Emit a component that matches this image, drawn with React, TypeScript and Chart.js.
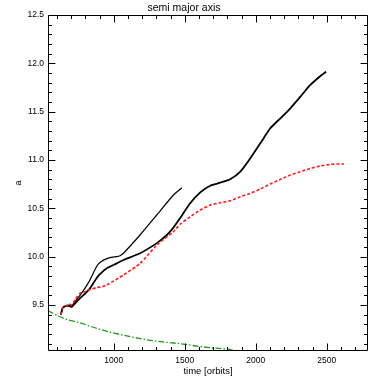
import React, { useEffect, useRef } from "react";
import { Chart, registerables } from "chart.js";

Chart.register(...registerables);

// ---- data (time in orbits, semi major axis a) ----
const timeThick = [628, 640, 664, 687, 704, 730, 762, 800, 833, 880, 903, 951, 1021, 1068, 1185, 1303, 1374, 1420, 1468, 1538, 1609, 1679, 1750, 1820, 1891, 1961, 2032, 2102, 2173, 2243, 2314, 2384, 2455, 2495];
const aThick = [9.40, 9.47, 9.49, 9.49, 9.48, 9.52, 9.57, 9.62, 9.672, 9.78, 9.82, 9.88, 9.93, 9.965, 10.035, 10.14, 10.224, 10.30, 10.40, 10.552, 10.665, 10.734, 10.765, 10.80, 10.879, 11.017, 11.173, 11.328, 11.431, 11.535, 11.655, 11.776, 11.869, 11.913];

const timeThin = [628, 640, 664, 687, 704, 730, 762, 800, 833, 880, 903, 951, 990, 1021, 1044, 1068, 1185, 1303, 1420, 1480];
const aThin = [9.40, 9.47, 9.49, 9.50, 9.49, 9.54, 9.60, 9.68, 9.76, 9.90, 9.94, 9.98, 9.995, 10.0, 10.01, 10.035, 10.224, 10.431, 10.638, 10.713];

const timeRed = [628, 640, 664, 687, 704, 730, 762, 800, 833, 880, 920, 951, 1068, 1185, 1303, 1420, 1468, 1538, 1609, 1679, 1750, 1820, 1891, 1961, 2032, 2102, 2173, 2243, 2314, 2384, 2455, 2525, 2620];
const aRed = [9.40, 9.47, 9.49, 9.51, 9.50, 9.56, 9.62, 9.64, 9.66, 9.68, 9.69, 9.707, 9.81, 9.93, 10.12, 10.258, 10.338, 10.413, 10.483, 10.534, 10.558, 10.579, 10.62, 10.655, 10.70, 10.752, 10.80, 10.845, 10.879, 10.914, 10.938, 10.955, 10.96];

const timeGreen = [537, 650, 762, 903, 1044, 1256, 1489, 1609, 1797, 1880];
const aGreen = [9.44, 9.36, 9.315, 9.248, 9.195, 9.135, 9.095, 9.07, 9.042, 9.024];

// ---- axes ----
const xMin = 537;
const xMax = 2790;
const yMin = 9.024;
const yMax = 12.5;
const xTickValues = [1000, 1500, 2000, 2500];
const xTickLabels = ["1000", "1500", "2000", "2500"];
const yTickValues = [9.5, 10.0, 10.5, 11.0, 11.5, 12.0, 12.5];
const yTickLabels = ["9.5", "10.0", "10.5", "11.0", "11.5", "12.0", "12.5"];
const xMinorStep = 100;
const yMinorStep = 0.1;

const titleText = "semi major axis";
const xTitle = "time [orbits]";
const yTitle = "a";

const FONT = "'Liberation Sans', Arial, sans-serif";

const pts = (xs: number[], ys: number[]) => xs.map((x, i) => ({ x, y: ys[i] }));

const framePlugin = {
  id: "idlFrame",
  afterDatasetsDraw(chart: any) {
    const { ctx, chartArea, scales } = chart;
    const { left, right, top, bottom } = chartArea;
    const xs = scales.x;
    const ys = scales.y;
    const L = Math.round(left) + 0.5;
    const R = Math.round(right) - 0.5;
    const T = Math.round(top) + 0.5;
    const B = Math.round(bottom) - 0.5;
    ctx.save();
    ctx.strokeStyle = "#000";
    ctx.lineWidth = 1;
    ctx.beginPath();
    ctx.rect(L, T, R - L, B - T);
    const major = 7;
    const minor = 3.5;
    const k0 = Math.ceil(xMin / xMinorStep);
    const k1 = Math.floor(xMax / xMinorStep);
    for (let k = k0; k <= k1; k++) {
      const v = k * xMinorStep;
      const len = xTickValues.includes(v) ? major : minor;
      const px = Math.round(xs.getPixelForValue(v)) + 0.5;
      ctx.moveTo(px, B);
      ctx.lineTo(px, B - len);
      ctx.moveTo(px, T);
      ctx.lineTo(px, T + len);
    }
    const j0 = Math.ceil(yMin / yMinorStep - 1e-6);
    const j1 = Math.floor(yMax / yMinorStep + 1e-6);
    for (let j = j0; j <= j1; j++) {
      const v = j * yMinorStep;
      const len = yTickValues.some((t) => Math.abs(t - v) < 1e-6) ? major : minor;
      const py = Math.round(ys.getPixelForValue(v)) + 0.5;
      ctx.moveTo(L, py);
      ctx.lineTo(L + len, py);
      ctx.moveTo(R, py);
      ctx.lineTo(R - len, py);
    }
    ctx.stroke();
    ctx.restore();
  },
};

export default function App() {
  const ref = useRef<HTMLCanvasElement | null>(null);
  useEffect(() => {
    if (!ref.current) return;
    const chart = new Chart(ref.current, {
      type: "line",
      data: {
        datasets: [
          {
            label: "green",
            data: pts(timeGreen, aGreen),
            borderColor: "#1f9a1f",
            borderWidth: 1.3,
            borderDash: [6, 2, 1.5, 2],
            pointRadius: 0,
            cubicInterpolationMode: "monotone",
          },
          {
            label: "red",
            data: pts(timeRed, aRed),
            borderColor: "#ff1a1a",
            borderWidth: 1.6,
            borderDash: [3, 2],
            pointRadius: 0,
            tension: 0.2,
          },
          {
            label: "thin",
            data: pts(timeThin, aThin),
            borderColor: "#000",
            borderWidth: 1.2,
            pointRadius: 0,
            tension: 0.2,
          },
          {
            label: "thick",
            data: pts(timeThick, aThick),
            borderColor: "#000",
            borderWidth: 1.8,
            pointRadius: 0,
            tension: 0.2,
          },
        ],
      },
      options: {
        animation: false,
        responsive: false,
        layout: { padding: { left: 0, right: 14, top: 0, bottom: 0 } },
        plugins: {
          legend: { display: false },
          tooltip: { enabled: false },
          title: {
            display: true,
            text: titleText,
            color: "#000",
            font: { family: FONT, size: 10.5, weight: "normal" },
            padding: { top: 2, bottom: 0.4 },
          },
        },
        scales: {
          x: {
            type: "linear",
            min: xMin,
            max: xMax,
            grid: { display: false, drawTicks: false },
            border: { display: false },
            afterBuildTicks: (s: any) => {
              s.ticks = xTickValues.map((v) => ({ value: v }));
            },
            afterFit: (s: any) => {
              s.height = 31;
            },
            ticks: {
              color: "#000",
              padding: 5,
              maxRotation: 0,
              font: { family: FONT, size: 8.5 },
              callback: (v: any) => {
                const i = xTickValues.indexOf(Number(v));
                return i >= 0 ? xTickLabels[i] : "";
              },
            },
            title: {
              display: true,
              text: xTitle,
              color: "#000",
              font: { family: FONT, size: 9.5 },
              padding: { top: 0, bottom: 5 },
            },
          },
          y: {
            type: "linear",
            min: yMin,
            max: yMax,
            grid: { display: false, drawTicks: false },
            border: { display: false },
            afterBuildTicks: (s: any) => {
              s.ticks = yTickValues.map((v) => ({ value: v }));
            },
            afterFit: (s: any) => {
              s.width = 48;
            },
            ticks: {
              color: "#000",
              padding: 4,
              font: { family: FONT, size: 8.5 },
              callback: (v: any) => {
                const i = yTickValues.findIndex((t) => Math.abs(t - Number(v)) < 1e-6);
                return i >= 0 ? yTickLabels[i] : "";
              },
            },
            title: {
              display: true,
              text: yTitle,
              color: "#000",
              font: { family: FONT, size: 9 },
              padding: { top: 13, bottom: 0 },
            },
          },
        },
      },
      plugins: [framePlugin],
    } as any);
    return () => chart.destroy();
  }, []);
  return (
    <div style={{ position: "absolute", left: 0, top: 0, width: 382, height: 382, background: "#fff" }}>
      <canvas ref={ref} width={382} height={382} style={{ display: "block" }} />
    </div>
  );
}
